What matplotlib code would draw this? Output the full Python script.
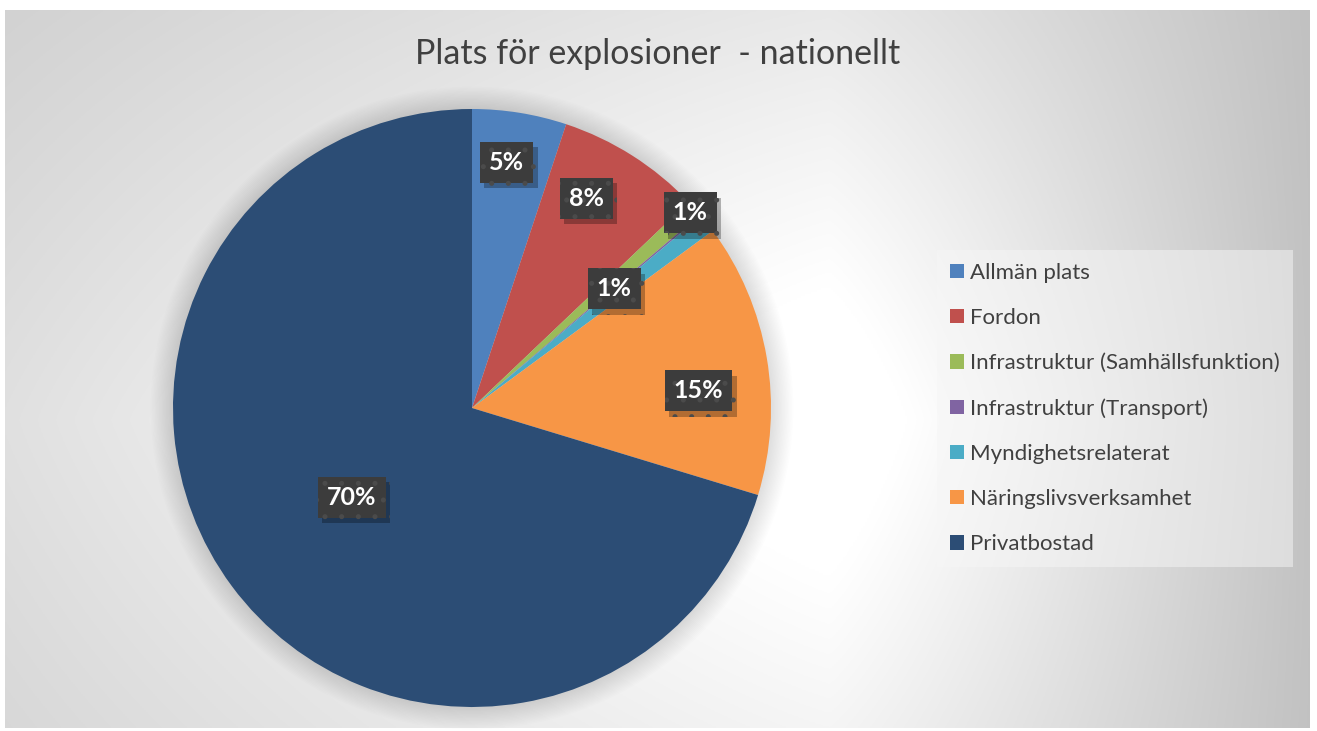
import numpy as np
import matplotlib
matplotlib.use("Agg")
import matplotlib.pyplot as plt
import matplotlib.patheffects as pe
from matplotlib.patches import Patch, Circle

# ---- data -------------------------------------------------------------
categories = ["Allmän plats", "Fordon", "Infrastruktur (Samhällsfunktion)",
              "Infrastruktur (Transport)", "Myndighetsrelaterat",
              "Näringslivsverksamhet", "Privatbostad"]
shares = [5.1, 7.8, 0.9, 0.1, 1.0, 14.8, 70.3]          # percent
shown = ["5%", "8%", "1%", None, "1%", "15%", "70%"]     # data labels as printed
colors = ["#4f81bd", "#c0504d", "#9bbb59", "#8064a2", "#4bacc6", "#f79646", "#2c4d75"]
title = "Plats för explosioner  - nationellt"

# label placement inside each wedge: (fraction along wedge from its start, radius)
label_pos = [(0.44, 0.83), (0.365, 0.80), (0.54, 0.98), None, (0.0, 0.62),
             (0.60, 0.76), (0.5, 0.50)]

plt.rcParams["font.family"] = ["Lato", "DejaVu Sans"]
W, H = 1317, 731
fig = plt.figure(figsize=(W / 100, H / 100), dpi=100)

# ---- gradient chart-area background ------------------------------------
bx0, by0, bx1, by1 = 5, 10, 1310, 728
bg = fig.add_axes([bx0 / W, 1 - by1 / H, (bx1 - bx0) / W, (by1 - by0) / H])
xs = np.linspace(bx0, bx1, 650)
ys = np.linspace(by0, by1, 360)
X, Y = np.meshgrid(xs, ys)
cx, cy = 830, 420
a = np.where(X < cx, (cx - X) / 1400, (X - cx) / 500)
b = np.where(Y < cy, (cy - Y) / 850, (Y - cy) / 1000)
t = 1 - (1 - np.clip(a, 0, 1) ** 1.15) * (1 - np.clip(b, 0, 1) ** 1.15)
t = np.clip((t - 0.12) / 0.88, 0, 1)
shade = 1.0 - t * (1.0 - 0.75)
bg.imshow(np.dstack([shade] * 3), extent=(0, 1, 0, 1), aspect="auto", origin="upper")
bg.set_axis_off()

# ---- pie ---------------------------------------------------------------
pcx, pcy, R = 472, 408, 299
ax = fig.add_axes([(pcx - R) / W, 1 - (pcy + R) / H, 2 * R / W, 2 * R / H])
# soft glow shadow around the pie
for k in range(16):
    ax.add_patch(Circle((0, 0), 1 + (k + 1) * 1.4 / R, fc="black", ec="none",
                        alpha=0.009, zorder=0, clip_on=False))
wedges, _ = ax.pie(shares, colors=colors, startangle=90, counterclock=False,
                   radius=1.0, wedgeprops=dict(linewidth=0, zorder=2))
ax.set_xlim(-1, 1); ax.set_ylim(-1, 1)
ax.set_aspect("equal")
ax.set_axis_off()

plt.rcParams["hatch.linewidth"] = 1.2
for w, lab, pos in zip(wedges, shown, label_pos):
    if lab is None:
        continue
    f, r = pos
    ang = np.deg2rad(w.theta2 - (w.theta2 - w.theta1) * f)
    x, y = r * np.cos(ang), r * np.sin(ang)
    txt = ax.text(x, y, lab, ha="center", va="center", fontsize=18, fontweight="bold",
                  color="white", zorder=5,
                  bbox=dict(boxstyle="square,pad=0.36", fc="#3c3c3c", ec="#4b4b4b",
                            lw=0, hatch="."))
    txt.get_bbox_patch().set_path_effects(
        [pe.SimplePatchShadow(offset=(3, -4), shadow_rgbFace="black", alpha=0.28),
         pe.Normal()])

# ---- title ---------------------------------------------------------------
fig.text(658 / W, 1 - 54 / H, title, ha="center", va="center", fontsize=24.5,
         color="#404040")

# ---- legend ------------------------------------------------------------
handles = [Patch(facecolor=c, edgecolor="none") for c in colors]
leg = fig.legend(handles, categories, loc="upper left",
                 bbox_to_anchor=(937 / W, 1 - 250 / H), borderaxespad=0,
                 fontsize=16, handlelength=0.63, handleheight=0.63,
                 handletextpad=0.27, labelspacing=1.13, borderpad=0.58,
                 frameon=True, fancybox=False, labelcolor="#404040")
leg.get_frame().set_facecolor("#f6f6f6")
leg.get_frame().set_alpha(0.5)
leg.get_frame().set_edgecolor("none")

fig.savefig("out.png", dpi=100, facecolor="white")
